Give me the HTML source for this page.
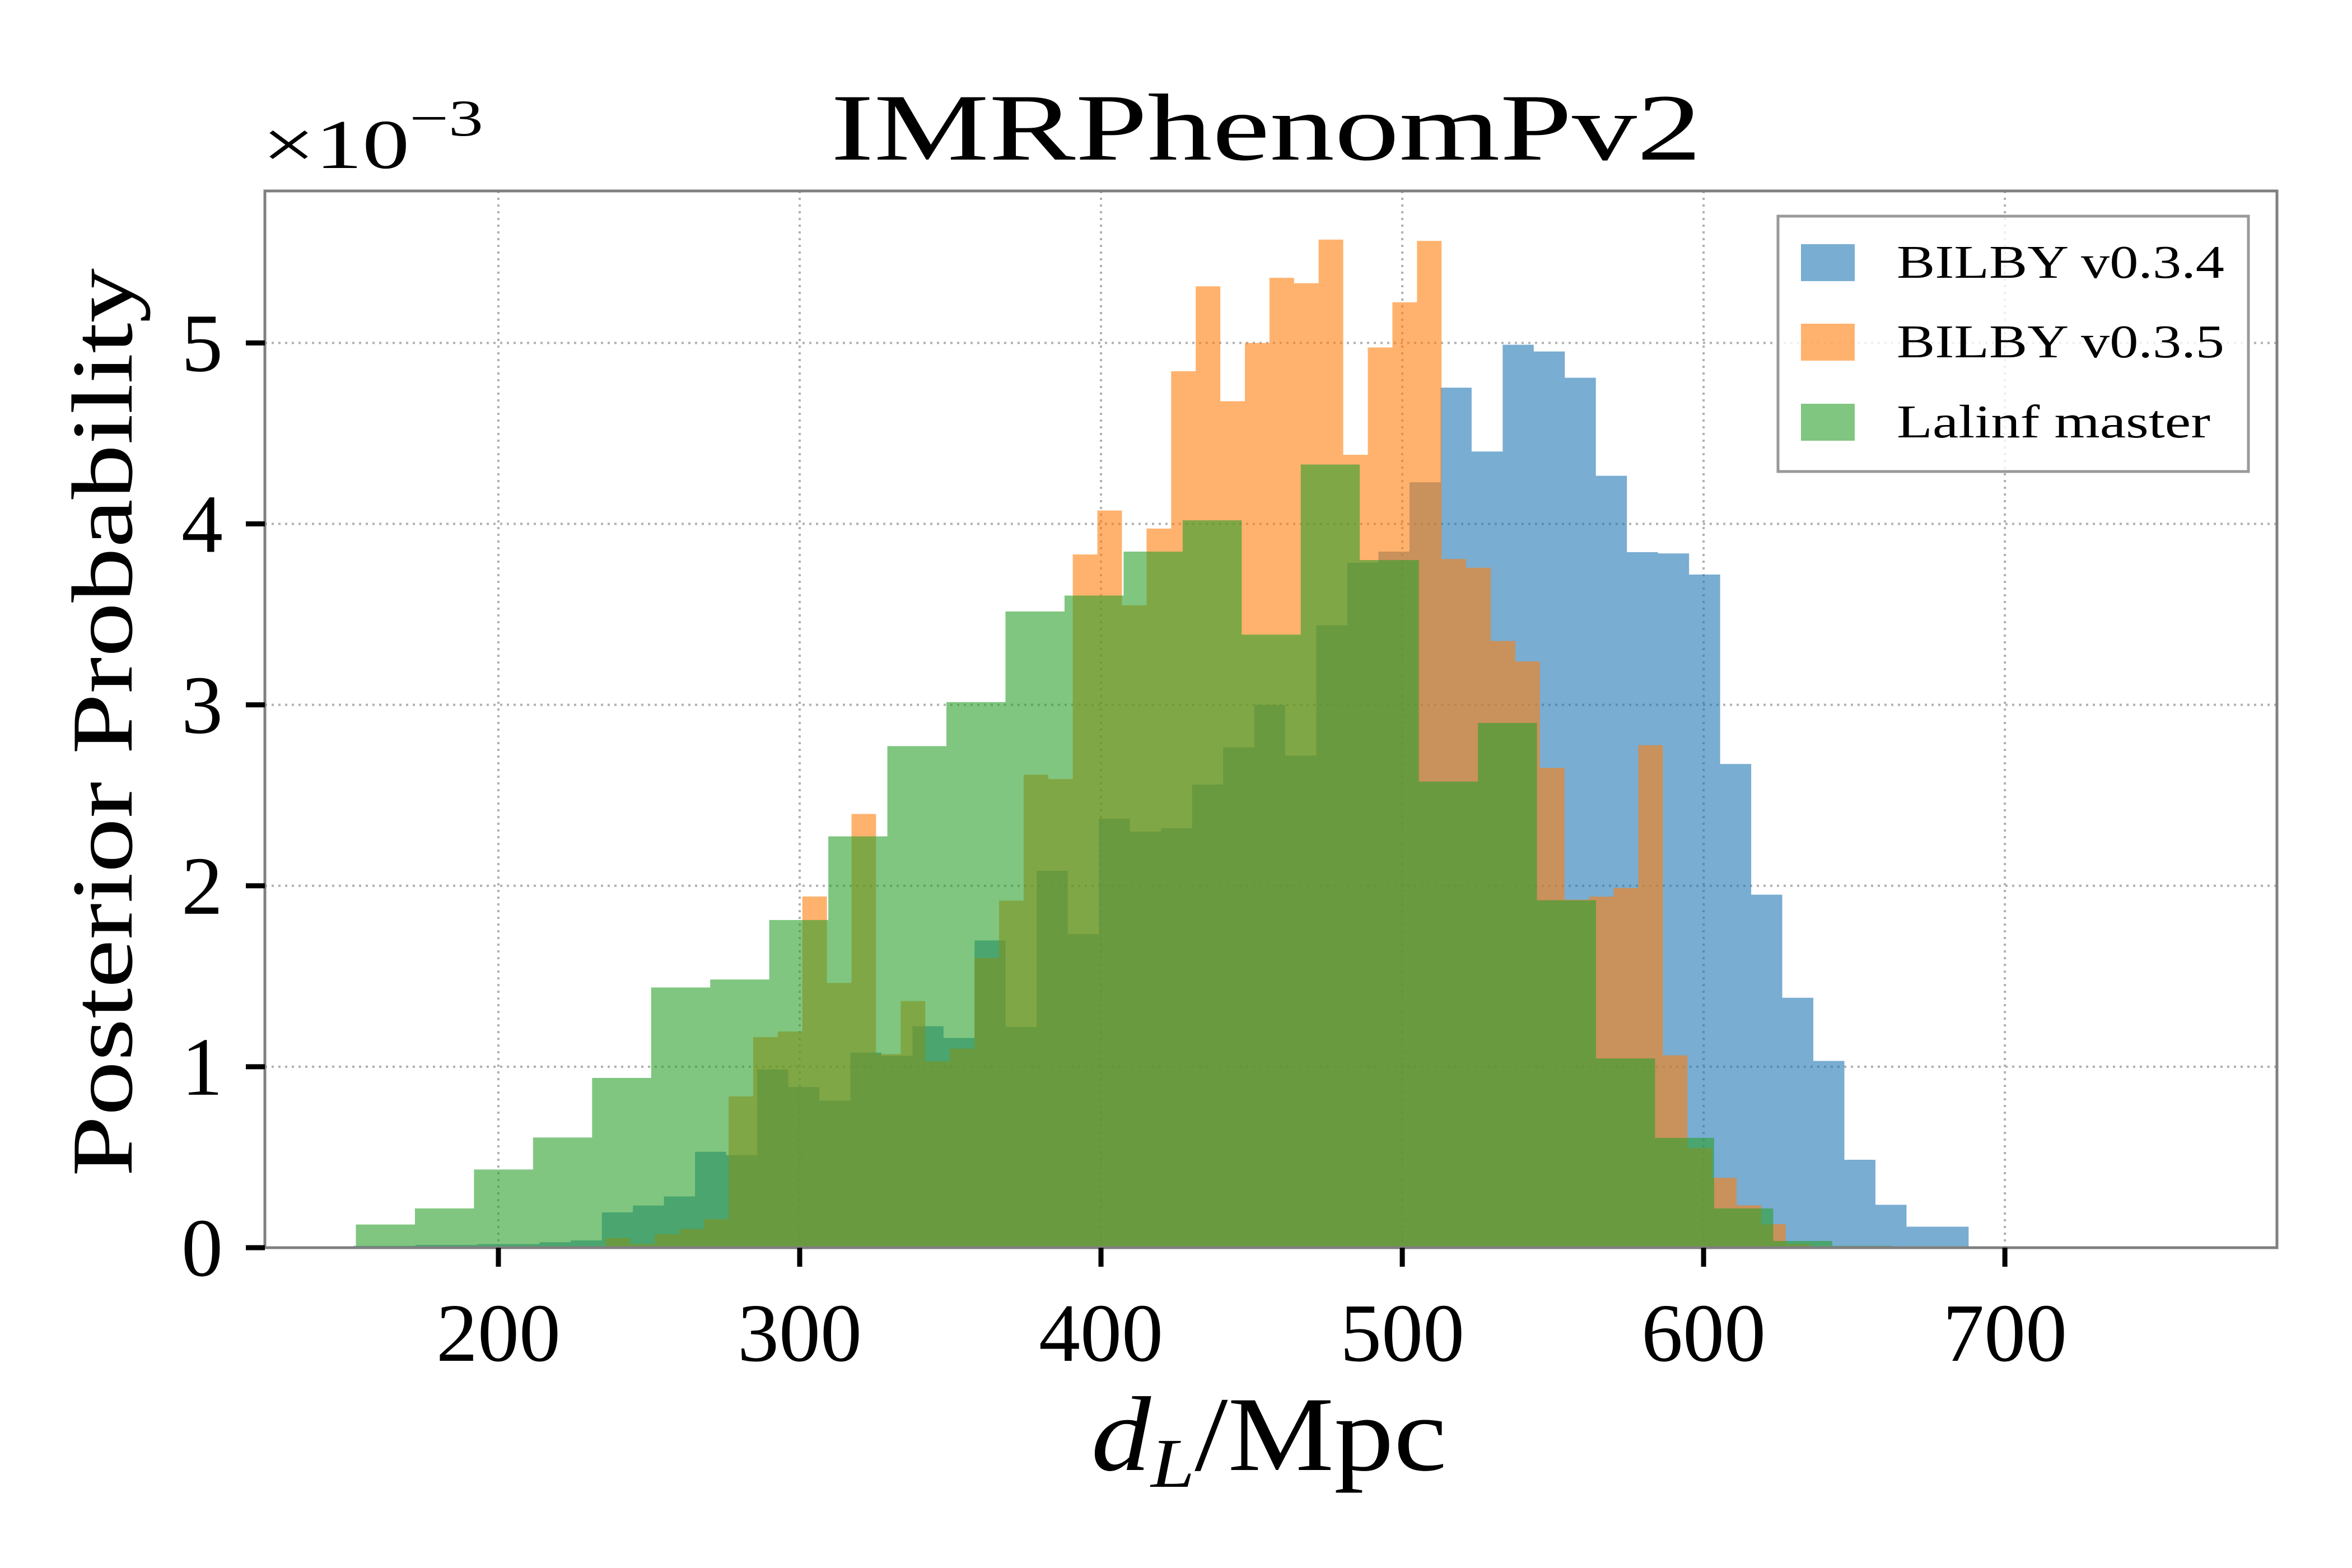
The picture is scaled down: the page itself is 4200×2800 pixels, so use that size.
<!DOCTYPE html>
<html><head><meta charset="utf-8">
<style>
html,body{margin:0;padding:0;background:#fff;}
svg{display:block;}
text{font-family:"Liberation Serif","DejaVu Serif",serif;fill:#000;}
</style></head>
<body>
<svg id="chart" width="4200" height="2800" viewBox="0 0 4200 2800" xmlns="http://www.w3.org/2000/svg">
  <rect x="0" y="0" width="4200" height="2800" fill="#fff"/>
  <g id="grid"></g>
  <g id="bars"></g>
  <g id="axes"></g>
  <text x="2261" y="285" font-size="170" text-anchor="middle" textLength="1555" lengthAdjust="spacingAndGlyphs">IMRPhenomPv2</text>
  <text x="468" y="300" font-size="125" textLength="395" lengthAdjust="spacingAndGlyphs">×10<tspan dy="-58" font-size="92">−3</tspan></text>
  <text transform="translate(235,1290) rotate(-90)" font-size="155" text-anchor="middle" textLength="1622" lengthAdjust="spacingAndGlyphs">Posterior Probability</text>
  <text x="2266" y="2625" font-size="190" text-anchor="middle" textLength="635" lengthAdjust="spacingAndGlyphs"><tspan font-style="italic">d</tspan><tspan font-style="italic" font-size="125" dy="30">L</tspan><tspan dy="-30">/Mpc</tspan></text>
  <g id="legend">
    <rect x="3175" y="386" width="840" height="456" fill="#fff" fill-opacity="0.8" stroke="#999" stroke-width="5"/>
  </g>
</svg>
<script>
// ---- data ----
const blueStart = 151.85, blueWidth = 10.31;
const blueValues = [0.01,0.01,0.015,0.015,0.02,0.02,0.03,0.04,0.195,0.233,0.283,0.53,0.512,0.985,0.888,0.813,1.078,1.06,1.224,1.159,1.698,1.22,2.083,1.733,2.372,2.30,2.318,2.56,2.765,3.0,2.72,3.44,3.785,3.847,4.23,4.753,4.40,4.99,4.953,4.808,4.266,3.844,3.837,3.72,2.673,1.951,1.381,1.032,0.486,0.237,0.116,0.116];
const orangeStart = 235.6, orangeWidth = 8.16;
const orangeValues = [0.053,0.02,0.075,0.103,0.158,0.836,1.164,1.195,1.941,1.463,2.397,1.07,1.363,1.03,1.1,1.6,1.918,2.614,2.59,3.831,4.074,3.55,3.974,4.844,5.313,4.678,5.0,5.36,5.33,5.571,4.382,4.975,5.225,5.564,3.806,3.758,3.353,3.24,2.652,1.923,1.94,1.988,2.777,1.063,0.55,0.386,0.234,0.13,0.02];
const greenStart = 152.7, greenWidth = 19.6;
const greenValues = [0.128,0.217,0.432,0.609,0.938,1.438,1.482,1.811,2.273,2.772,3.015,3.516,3.604,3.847,4.020,3.388,4.328,3.80,2.576,2.90,1.92,1.046,0.607,0.217,0.037,0.01];
const xTicks = [200,300,400,500,600,700];
const yTicks = [0,1,2,3,4,5];
const seriesNames = ["BILBY v0.3.4","BILBY v0.3.5","Lalinf master"];

// ---- axes ----
const PL=473, PR=4066, PT=341, PB=2228;
const xMin=122.5, xMax=790.3, yMin=0, yMax=5.84;
function xs(v){return PL+(v-xMin)/(xMax-xMin)*(PR-PL);}
function ys(v){return PB-(v-yMin)/(yMax-yMin)*(PB-PT);}
const NS="http://www.w3.org/2000/svg";
function mk(tag,attrs,parent){const e=document.createElementNS(NS,tag);for(const k in attrs)e.setAttribute(k,attrs[k]);parent.appendChild(e);return e;}

const grid=document.getElementById('grid');
xTicks.forEach(t=>{
  const l=mk('line',{x1:xs(t),x2:xs(t),y1:PT,y2:PB,stroke:'#b0b0b0','stroke-width':4,'stroke-dasharray':'4 8'},grid);
  
  
});
yTicks.forEach(t=>{
  const l=mk('line',{x1:PL,x2:PR,y1:ys(t),y2:ys(t),stroke:'#b0b0b0','stroke-width':4,'stroke-dasharray':'4 8'},grid);
  
  
});

const bars=document.getElementById('bars');
function drawSeries(start,width,vals,color,name){
  let d='M'+xs(start)+','+PB;
  vals.forEach((v,i)=>{
    d+=' L'+xs(start+i*width)+','+ys(v)+' L'+xs(start+(i+1)*width)+','+ys(v);
  });
  d+=' L'+xs(start+vals.length*width)+','+PB+' Z';
  const p=mk('path',{d:d,fill:color,'fill-opacity':0.6},bars);
  
  
}
drawSeries(blueStart,blueWidth,blueValues,'#1f77b4','bilby-v034');
drawSeries(orangeStart,orangeWidth,orangeValues,'#ff7f0e','bilby-v035');
drawSeries(greenStart,greenWidth,greenValues,'#2ca02c','lalinf-master');

const axes=document.getElementById('axes');
const frame=mk('rect',{x:PL,y:PT,width:PR-PL,height:PB-PT,fill:'none',stroke:'#808080','stroke-width':5},axes);


xTicks.forEach(t=>{
  const tk=mk('line',{x1:xs(t),x2:xs(t),y1:PB,y2:PB+34,stroke:'#000','stroke-width':9},axes);
  
  
  const tx=mk('text',{x:xs(t),y:2430,'font-size':148,'text-anchor':'middle'},axes);
  tx.textContent=t;
  
  
});
yTicks.forEach(t=>{
  const tk=mk('line',{x1:PL-34,x2:PL,y1:ys(t),y2:ys(t),stroke:'#000','stroke-width':9},axes);
  
  
  const tx=mk('text',{x:398,y:ys(t)+50,'font-size':148,'text-anchor':'end'},axes);
  tx.textContent=t;
  
  
});

const legend=document.getElementById('legend');
const legColors=['#1f77b4','#ff7f0e','#2ca02c'];
const legY=[469,611,754];
seriesNames.forEach((n,i)=>{
  const p=mk('rect',{x:3216,y:legY[i]-33,width:96,height:66,fill:legColors[i],'fill-opacity':0.6},legend);
  
  
  const t=mk('text',{x:3387,y:legY[i]+27,'font-size':84,textLength:[585,585,560][i],lengthAdjust:'spacingAndGlyphs'},legend);
  t.textContent=n;
  
  
});
</script>
</body></html>
